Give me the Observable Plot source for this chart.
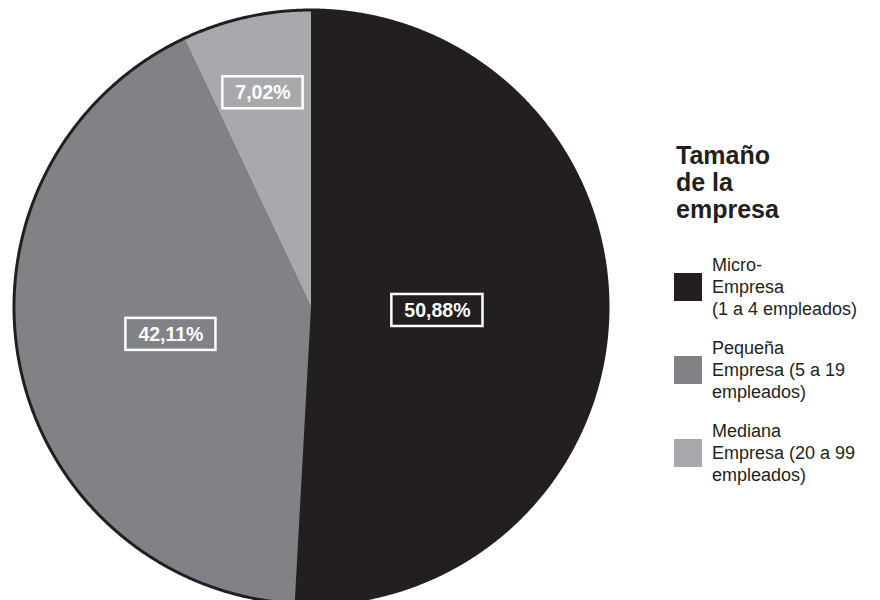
<!DOCTYPE html>
<html><head><meta charset="utf-8">
<script src="https://cdn.jsdelivr.net/npm/d3@7"></script>
<script src="https://cdn.jsdelivr.net/npm/@observablehq/plot@0.6"></script>
<style>
body{margin:0;background:#fff;font-family:"Liberation Sans",Arial,sans-serif;}
#wrap{position:relative;width:880px;height:600px;overflow:hidden;}
#chart{position:absolute;left:0;top:0;}
#legend{position:absolute;left:676px;top:142px;color:#231f20;}
#legend .title{font-weight:bold;font-size:25px;line-height:27px;margin-bottom:31px;}
#legend .item{display:flex;align-items:center;height:66px;margin-bottom:17px;}
#legend .sw{width:28px;height:28px;flex:none;margin-left:-2px;margin-right:10px;}
#legend .txt{font-size:18px;line-height:22px;white-space:nowrap;}
</style></head><body>
<div id="wrap"><div id="chart"></div><div id="legend"></div></div>
<script>
const categories = ["Micro-Empresa (1 a 4 empleados)", "Pequeña Empresa (5 a 19 empleados)", "Mediana Empresa (20 a 99 empleados)"];
const legendLines = [["Micro-", "Empresa", "(1 a 4 empleados)"], ["Pequeña", "Empresa (5 a 19", "empleados)"], ["Mediana", "Empresa (20 a 99", "empleados)"]];
const values = [50.88, 42.11, 7.02];
const valueLabels = ["50,88%", "42,11%", "7,02%"];
const colors = ["#231f20", "#808285", "#a7a9ac"];
const legendTitle = ["Tamaño", "de la", "empresa"];

// layout parameters (not data)
const labelRadius = [0.428, 0.483, 0.743];
const pxPerUnit = 295.5;
const labelFont = "bold 19.5px 'Liberation Sans', Arial, sans-serif";

const arcs = d3.pie().sort(null).value(d => d)(values);
const step = Math.PI / 720;
const slices = arcs.map((a, i) => {
  const pts = [{x: 0, y: 0}];
  const n = Math.max(2, Math.ceil((a.endAngle - a.startAngle) / step));
  for (let k = 0; k <= n; k++) {
    const t = a.startAngle + (a.endAngle - a.startAngle) * k / n;
    pts.push({x: Math.sin(t), y: Math.cos(t)});
  }
  return {pts, color: colors[i]};
});
const rim = slices.flatMap(s => s.pts.slice(1));

const ctx = document.createElement("canvas").getContext("2d");
ctx.font = labelFont;
const labelData = arcs.map((a, i) => {
  const m = (a.startAngle + a.endAngle) / 2;
  const x = Math.sin(m) * labelRadius[i], y = Math.cos(m) * labelRadius[i];
  const w = ctx.measureText(valueLabels[i]).width + 25;
  const hw = w / 2 / pxPerUnit, hh = 16 / pxPerUnit;
  return {x, y, label: valueLabels[i], x1: x - hw, x2: x + hw, y1: y - hh, y2: y + hh};
});

const chart = Plot.plot({
  width: 640, height: 600, margin: 0,
  style: {fontFamily: "'Liberation Sans', Arial, sans-serif", overflow: "visible"},
  x: {domain: [-1, 1], range: [15, 606], axis: null},
  y: {domain: [-1, 1], range: [602, 11], axis: null},
  marks: [
    Plot.line(rim, {x: "x", y: "y", fill: "#231f20", stroke: "#231f20", strokeWidth: 6, strokeLinejoin: "round"}),
    ...slices.map(s => Plot.line(s.pts, {x: "x", y: "y", fill: s.color, stroke: "none"})),
    Plot.rect(labelData, {x1: "x1", x2: "x2", y1: "y1", y2: "y2", fill: "none", stroke: "white", strokeWidth: 2.5}),
    Plot.text(labelData, {x: "x", y: "y", text: "label", fill: "white", fontSize: 19.5, fontWeight: "bold"})
  ]
});
document.getElementById("chart").appendChild(chart);

const lg = document.getElementById("legend");
const t = document.createElement("div");
t.className = "title";
t.innerHTML = legendTitle.join("<br>");
lg.appendChild(t);
categories.forEach((c, i) => {
  const it = document.createElement("div");
  it.className = "item";
  it.title = c;
  const sw = document.createElement("div");
  sw.className = "sw";
  sw.style.background = colors[i];
  const tx = document.createElement("div");
  tx.className = "txt";
  tx.innerHTML = legendLines[i].join("<br>");
  it.appendChild(sw); it.appendChild(tx);
  lg.appendChild(it);
});
</script>
</body></html>
